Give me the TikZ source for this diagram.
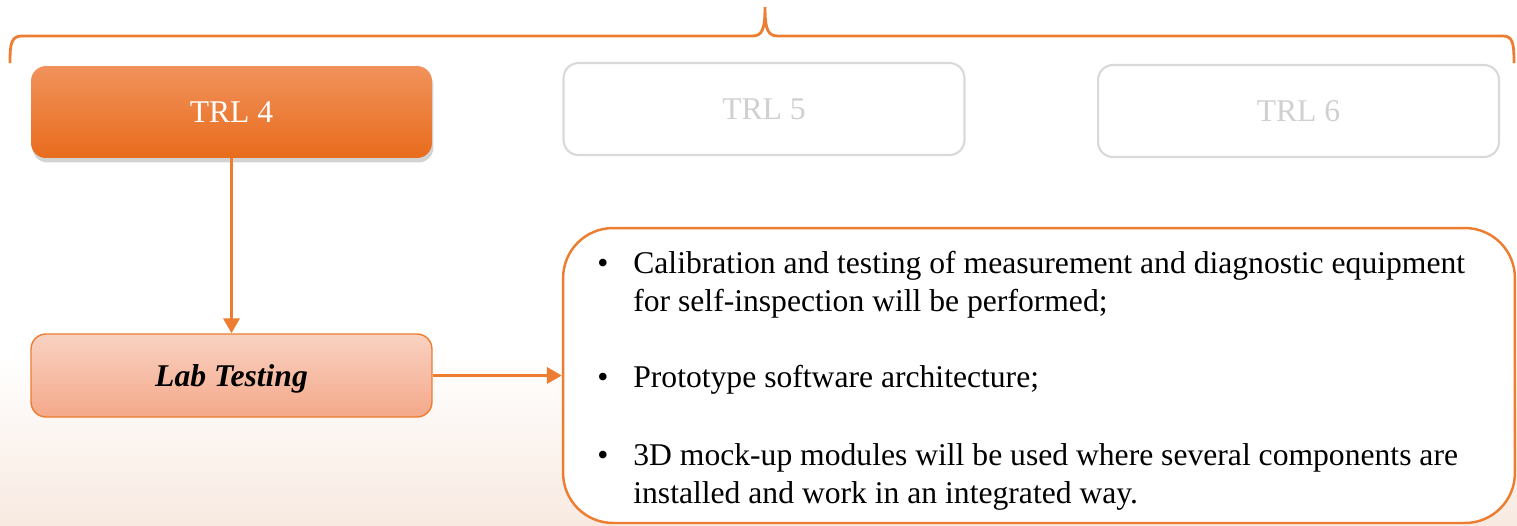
\documentclass[tikz,border=0pt]{standalone}
\usepackage{fontspec}
\setmainfont{Liberation Serif}
\usetikzlibrary{arrows.meta,shadows}

\definecolor{naranja}{RGB}{237,125,49}
\definecolor{naranjaA}{RGB}{241,146,92}
\definecolor{naranjaB}{RGB}{232,108,28}
\definecolor{salmonA}{RGB}{249,210,194}
\definecolor{salmonB}{RGB}{244,168,138}
\definecolor{gris}{RGB}{217,217,217}
\definecolor{grisT}{RGB}{208,208,208}
\definecolor{fondo}{RGB}{248,234,225}

\tikzset{
  trl/.style={rounded corners=.3cm,minimum width=8.02cm,minimum height=1.84cm,
    font=\fontsize{18}{21.6}\selectfont},
  trlon/.style={trl,top color=naranjaA,bottom color=naranjaB,text=white,
    drop shadow={opacity=.35,shadow xshift=.03cm,shadow yshift=-.09cm}},
  trloff/.style={trl,draw=gris,line width=1.2pt,fill=white,text=grisT},
  flecha/.style={draw=naranja,line width=2pt,-{Triangle[length=3mm,width=3.2mm]}},
  punto/.style={anchor=base,font=\fontsize{18}{21.6}\selectfont,inner sep=0pt},
  item/.style={anchor=base west,align=left,inner sep=0pt,font=\fontsize{18}{21.55}\selectfont}
}

\begin{document}
\begin{tikzpicture}[x=.02cm,y=-.02cm]
  \useasboundingbox (0,0) rectangle (1517,525);

  % fondo
  \shade[top color=white,bottom color=fondo] (0,355) rectangle (1517,525);

  % llave
  \draw[naranja,line width=1.6pt] (10,63) .. controls (10,44) and (11,36) .. (22,36) -- (752,36)
    .. controls (762,36) and (765,30) .. (765,7) .. controls (765,30) and (768,36) .. (778,36)
    -- (1503,36) .. controls (1513,36) and (1514,44) .. (1514,63);

  % niveles
  \node[trlon] (trlfour) at (231.5,112) {TRL 4};
  \node[trloff] (trlfive) at (764,109) {TRL 5};
  \node[trloff] (trlsix) at (1298.5,111) {TRL 6};

  \node[rounded corners=.3cm,minimum width=8.02cm,minimum height=1.66cm,draw=naranja,line width=.8pt,
    top color=salmonA,bottom color=salmonB,font=\fontsize{18}{21.6}\selectfont\bfseries\itshape,
    text depth=0pt] (lab) at (231.5,375.5) {Lab Testing};

  \node[draw=naranja,line width=1.4pt,fill=white,rounded corners=1cm,minimum width=19.04cm,
    minimum height=5.9cm] (detail) at (1039,375.5) {};

  \draw[flecha] (trlfour) -- (lab);
  \draw[flecha] (lab) -- (detail);

  % puntos
  \node[punto] (bone) at (603,273) {\textbullet};
  \node[item] (pone) at (633,311) {Calibration and testing of measurement and diagnostic equipment\\for self-inspection will be performed;};
  \node[punto] (btwo) at (603,387) {\textbullet};
  \node[item] (ptwo) at (633,387) {Prototype software architecture;};
  \node[punto] (bthree) at (603,465) {\textbullet};
  \node[item] (pthree) at (633,503) {3D mock-up modules will be used where several components are\\installed and work in an integrated way.};
\end{tikzpicture}
\end{document}
